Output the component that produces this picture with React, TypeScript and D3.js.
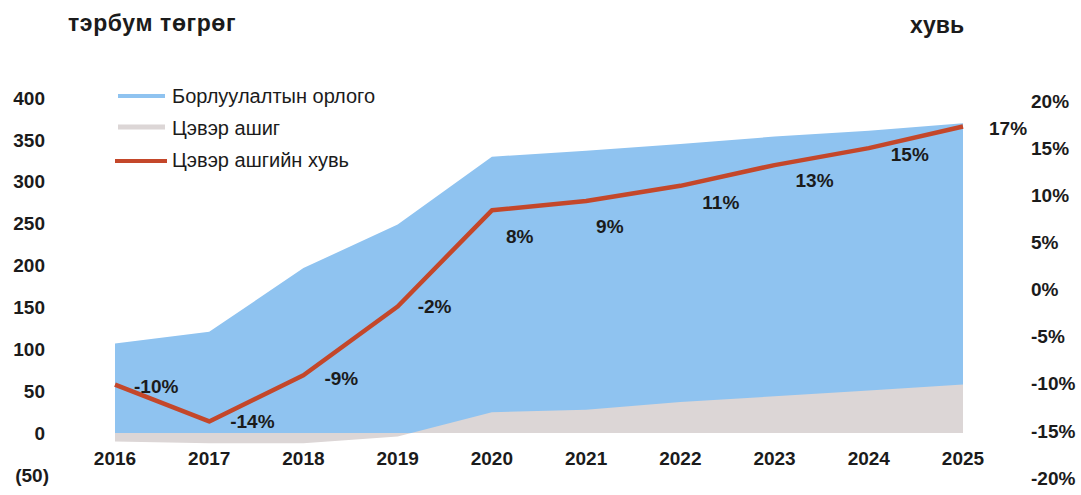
import React from "react";
import * as d3 from "d3";

const years = ["2016", "2017", "2018", "2019", "2020", "2021", "2022", "2023", "2024", "2025"];
const revenue = [107, 121, 197, 249, 330, 337, 345, 354, 361, 370];
const netProfit = [-10, -12, -12, -4, 25, 28, 37, 44, 51, 58];
const margin = [-10.1, -14.0, -9.1, -1.8, 8.4, 9.4, 11.0, 13.2, 15.0, 17.3];
const leftTicks = [-50, 0, 50, 100, 150, 200, 250, 300, 350, 400];
const rightTicks = [-20, -15, -10, -5, 0, 5, 10, 15, 20];
const seriesNames = ["Борлуулалтын орлого", "Цэвэр ашиг", "Цэвэр ашгийн хувь"];
const leftTitle = "тэрбум төгрөг";
const rightTitle = "хувь";

// layout-only offsets for the data labels (manually placed in the original)
const labelDx = [19, 21, 21, 20, 14, 10, 22, 21, 22, 26];
const labelDy = [2, 0, 3, 0, 26, 25, 17, 15, 6, 2];

const W = 1081;
const H = 495;
const BLUE = "#8fc3f0";
const GRAY = "#dcd6d6";
const RED = "#c4472a";
const TEXT = "#1b1b1b";
const FONT = "'Liberation Sans', Arial, sans-serif";

export default function App() {
  const x = d3.scalePoint<string>().domain(years).range([115, 963]);
  const yL = d3.scaleLinear().domain([-50, 400]).range([475, 98]);
  const yR = d3.scaleLinear().domain([-20, 20]).range([478, 101]);

  const idx = years.map((_, i) => i);
  const revArea = d3
    .area<number>()
    .x((i) => x(years[i])!)
    .y0(yL(0))
    .y1((i) => yL(revenue[i]));
  const npArea = d3
    .area<number>()
    .x((i) => x(years[i])!)
    .y0(yL(0))
    .y1((i) => yL(netProfit[i]));
  const line = d3
    .line<number>()
    .x((i) => x(years[i])!)
    .y((i) => yR(margin[i]));

  const fmtLeft = (v: number) => (v < 0 ? `(${Math.abs(v)})` : `${v}`);

  return (
    <svg
      width={W}
      height={H}
      style={{ position: "absolute", left: 0, top: 0, background: "#fff" }}
      fontFamily={FONT}
    >
      <rect width={W} height={H} fill="#fff" />
      <path d={revArea(idx)!} fill={BLUE} />
      <path d={npArea(idx)!} fill={GRAY} />
      <path d={line(idx)!} fill="none" stroke={RED} strokeWidth={4.5} strokeLinejoin="round" />

      {/* data labels */}
      {idx.map((i) => (
        <text
          key={"lab" + i}
          x={x(years[i])! + labelDx[i]}
          y={yR(margin[i]) + labelDy[i]}
          dy="0.35em"
          fontSize={19}
          fontWeight="bold"
          fill={TEXT}
        >
          {Math.round(margin[i])}%
        </text>
      ))}

      {/* left axis */}
      {leftTicks.map((t) => (
        <text
          key={"l" + t}
          x={t < 0 ? 49 : 45}
          y={yL(t)}
          dy="0.35em"
          textAnchor="end"
          fontSize={19}
          fontWeight="bold"
          fill={TEXT}
        >
          {fmtLeft(t)}
        </text>
      ))}

      {/* right axis */}
      {rightTicks.map((t) => (
        <text
          key={"r" + t}
          x={1031}
          y={yR(t)}
          dy="0.35em"
          textAnchor="start"
          fontSize={19}
          fontWeight="bold"
          fill={TEXT}
        >
          {t}%
        </text>
      ))}

      {/* x axis */}
      {years.map((yr) => (
        <text
          key={"x" + yr}
          x={x(yr)!}
          y={458}
          dy="0.35em"
          textAnchor="middle"
          fontSize={19}
          fontWeight="bold"
          fill={TEXT}
        >
          {yr}
        </text>
      ))}

      {/* axis titles */}
      <text x={68} y={31} fontSize={23} fontWeight="bold" fill={TEXT} letterSpacing={0.6}>
        {leftTitle}
      </text>
      <text x={910} y={33} fontSize={23} fontWeight="bold" fill={TEXT}>
        {rightTitle}
      </text>

      {/* legend */}
      <line x1={118} x2={165} y1={96} y2={96} stroke={BLUE} strokeWidth={4} />
      <text x={172} y={103} fontSize={20} fill={TEXT}>
        {seriesNames[0]}
      </text>
      <line x1={118} x2={165} y1={127} y2={127} stroke={GRAY} strokeWidth={5} />
      <text x={172} y={135} fontSize={20} fill={TEXT}>
        {seriesNames[1]}
      </text>
      <line x1={115} x2={167} y1={161} y2={161} stroke={RED} strokeWidth={4} />
      <text x={172} y={167} fontSize={20} fill={TEXT}>
        {seriesNames[2]}
      </text>
    </svg>
  );
}
